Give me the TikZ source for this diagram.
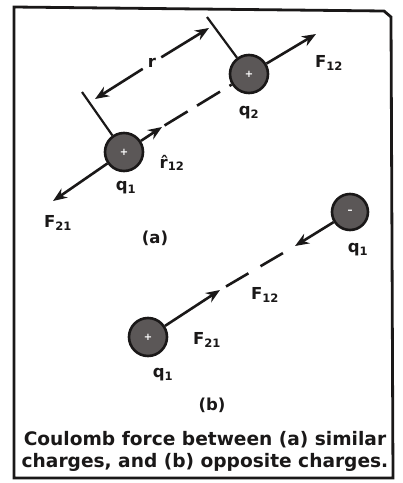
\documentclass[tikz,border=0pt]{standalone}
\usepackage{fontspec}
\setmainfont{DejaVu Sans}
\definecolor{cInk}{HTML}{1A1818}
\definecolor{cCharge}{HTML}{5B5757}
\usetikzlibrary{arrows.meta}

\tikzset{
  charge/.style={circle, draw=cInk, line width=2.6pt, fill=cCharge, minimum size=38pt,
                 inner sep=0pt, text=white, font=\bfseries\normalsize},
  force/.style={-{Stealth[length=14pt, width=11pt]}, cInk, line width=2.6pt},
  gapline/.style={cInk, line width=2.6pt},
  lbl/.style={font=\fontsize{16.5}{19}\selectfont\bfseries, text=cInk, inner sep=1pt},
}

\begin{document}
\begin{tikzpicture}[x=1pt, y=-1pt]
  \useasboundingbox (0,0) rectangle (403,483);
  % frame
  \draw[cInk, line width=2.8pt] (14,478) -- (14,7) -- (384,11) -- (391,17) -- (393,478) -- cycle;

  % (a) similar charges
  \node[charge] (qoneA) at (124,152) {+};
  \node[charge] (qtwoA) at (249,74) {+};
  \coordinate (ftwelveA) at (316,34);
  \coordinate (ftwentyoneA) at (53,201);
  \coordinate (rhatTip) at (162,127);
  \coordinate (tickOne) at (82,92);
  \coordinate (tickTwo) at (207,17);
  \coordinate (rLow) at (95,99);
  \coordinate (rHigh) at (209,28);
  \draw[force] (qtwoA) -- (ftwelveA);
  \draw[force] (qoneA) -- (ftwentyoneA);
  \draw[force] (qoneA) -- (rhatTip);
  \draw[gapline, dash pattern=on 27pt off 11pt, dash phase=35pt] (rhatTip) -- (qtwoA);
  % separation r
  \draw[cInk, line width=2.2pt] (qoneA) -- (tickOne);
  \draw[cInk, line width=2.2pt] (qtwoA) -- (tickTwo);
  \node[lbl, inner sep=5pt] (rLbl) at (152,63) {r};
  \draw[force] (rLbl) -- (rLow);
  \draw[force] (rLbl) -- (rHigh);
  \node[lbl] (ftwelveALbl) at (329,63) {F\textsubscript{12}};
  \node[lbl] (qtwoALbl) at (249,113) {q\textsubscript{2}};
  \node[lbl] (rhatLbl) at (172,163) {\^{r}\textsubscript{12}};
  \node[lbl] (qoneALbl) at (126,188) {q\textsubscript{1}};
  \node[lbl] (ftwentyoneALbl) at (58,223) {F\textsubscript{21}};
  \node[lbl] (capA) at (155,238) {(a)};

  % (b) opposite charges
  \node[charge, minimum size=36pt] (qoneNeg) at (350,212) {--};
  \node[charge] (qonePos) at (148,337) {+};
  \coordinate (ftwelveB) at (295,246);
  \coordinate (ftwentyoneB) at (220,290);
  \draw[force] (qoneNeg) -- (ftwelveB);
  \draw[force] (qonePos) -- (ftwentyoneB);
  \draw[gapline, dash pattern=on 26pt off 14pt, dash phase=26pt] (ftwelveB) -- (ftwentyoneB);
  \node[lbl] (qoneNegLbl) at (358,250) {q\textsubscript{1}};
  \node[lbl] (ftwelveBLbl) at (265,295) {F\textsubscript{12}};
  \node[lbl] (ftwentyoneBLbl) at (207,340) {F\textsubscript{21}};
  \node[lbl] (qonePosLbl) at (163,375) {q\textsubscript{1}};
  \node[lbl] (capB) at (212,405) {(b)};

  % caption
  \node[font=\fontsize{18.6}{22}\selectfont\bfseries, text=cInk, align=center] (caption) at (205,451)
       {Coulomb force between (a) similar\\charges, and (b) opposite charges.};
\end{tikzpicture}
\end{document}
